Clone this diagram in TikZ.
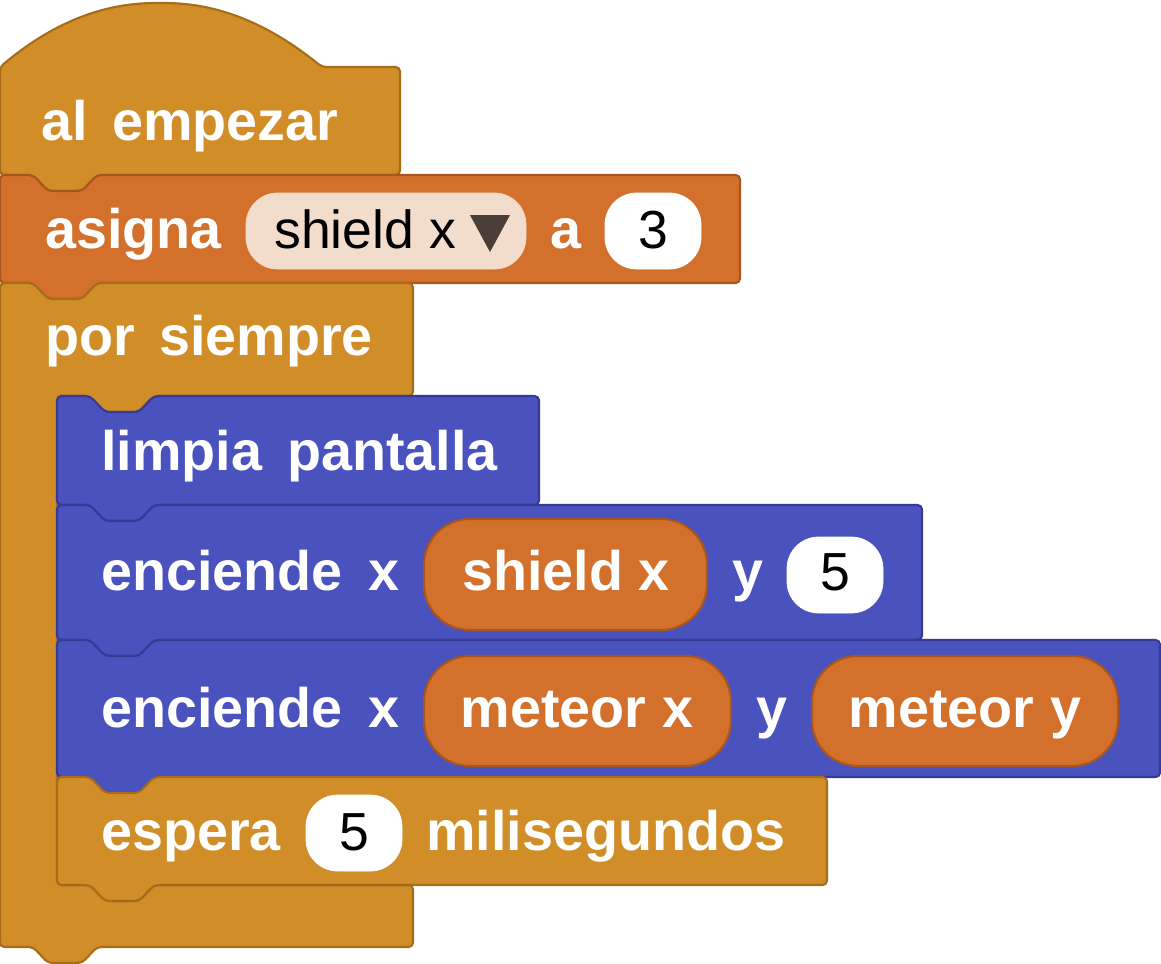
\documentclass[tikz,border=0pt]{standalone}
\usepackage{fontspec}
\setmainfont{Liberation Sans}
\usepackage{tikz}

\definecolor{ctrlgold}{RGB}{209,142,40}
\definecolor{ctrledge}{RGB}{166,108,26}
\definecolor{varorange}{RGB}{211,113,44}
\definecolor{varedge}{RGB}{168,86,30}
\definecolor{ledblue}{RGB}{73,82,189}
\definecolor{lededge}{RGB}{52,58,150}
\definecolor{dropbg}{RGB}{242,220,204}
\definecolor{droparrow}{RGB}{74,62,56}

\newcommand\stackblock[6]{%
  \draw[block,fill=#1,draw=#2] (#3,#4) -- ++(33,0) -- ++(15,16) -- ++(34,0) -- ++(15,-16)
    -- (#5,#4) -- (#5,#6) -- (#3+97,#6) -- ++(-15,16) -- ++(-34,0) -- ++(-15,-16)
    -- (#3,#6) -- cycle;}

\begin{document}
\begin{tikzpicture}
  [x=0.02cm,y=-0.02cm,
   block/.style={line width=1.2pt,rounded corners=2.5pt},
   word/.style={anchor=base west,text=white,font=\fontsize{31.7}{36}\selectfont\bfseries,inner sep=0pt},
   plain/.style={anchor=base,text=black,font=\fontsize{30.5}{36}\selectfont,inner sep=0pt},
   boldpill/.style={anchor=base,text=white,font=\fontsize{31.7}{36}\selectfont\bfseries,inner sep=0pt}]
  \useasboundingbox (0,0) rectangle (1161,964);

  % hat block
  \draw[block,fill=ctrlgold,draw=ctrledge] (0,67) .. controls (50,25) and (100,3) .. (160,3)
    .. controls (220,3) and (270,25) .. (322,67) -- (400,67) -- (400,175) -- (97,175)
    -- ++(-15,16) -- ++(-34,0) -- ++(-15,-16) -- (0,175) -- cycle;
  \node[word] (al) at (41,140) {al};
  \node[word] (start) at (112,140) {empezar};

  % assign
  \stackblock{varorange}{varedge}{0}{175}{740}{283}
  \node[word] (assign) at (45,248) {asigna};
  \draw[fill=dropbg,draw=dropbg,rounded corners=18pt] (246,193) rectangle (526,269);
  \node[plain,anchor=base west] (dropvar) at (274,248) {shield x};
  \fill[droparrow] (470,215) -- (510,215) -- (490,252) -- cycle;
  \node[word] (to) at (550,248) {a};
  \draw[fill=white,draw=white,rounded corners=18pt] (605,193) rectangle (701,269);
  \node[plain] (three) at (653,248) {3};

  % forever
  \draw[block,fill=ctrlgold,draw=ctrledge] (0,283) -- ++(33,0) -- ++(15,16) -- ++(34,0) -- ++(15,-16)
    -- (413,283) -- (413,396) -- (153,396) -- ++(-15,16) -- ++(-34,0) -- ++(-15,-16)
    -- (57,396) -- (57,885) -- (90,885) -- ++(15,16) -- ++(34,0) -- ++(15,-16)
    -- (413,885) -- (413,947) -- (97,947) -- ++(-15,16) -- ++(-34,0) -- ++(-15,-16)
    -- (0,947) -- cycle;
  \node[word] (por) at (45,355) {por};
  \node[word] (always) at (159,355) {siempre};

  % clear screen
  \stackblock{ledblue}{lededge}{57}{396}{539}{505}
  \node[word] (clear) at (101,470) {limpia};
  \node[word] (screen) at (287,470) {pantalla};

  % plot 1
  \stackblock{ledblue}{lededge}{57}{505}{922}{640}
  \node[word] (plotA) at (101,590) {enciende};
  \node[word] (plotAx) at (368,590) {x};
  \draw[fill=varorange,draw=varedge,line width=1.2pt,rounded corners=26pt] (424,519) rectangle (707,630);
  \node[boldpill] (shieldx) at (566,590) {shield x};
  \node[word] (plotAy) at (732,590) {y};
  \draw[fill=white,draw=white,rounded corners=18pt] (787,537) rectangle (883,613);
  \node[plain] (five) at (835,590) {5};

  % plot 2
  \stackblock{ledblue}{lededge}{57}{640}{1160}{777}
  \node[word] (plotB) at (101,727) {enciende};
  \node[word] (plotBx) at (368,727) {x};
  \draw[fill=varorange,draw=varedge,line width=1.2pt,rounded corners=26pt] (424,656) rectangle (731,766);
  \node[boldpill] (meteorx) at (577,727) {meteor x};
  \node[word] (plotBy) at (756,727) {y};
  \draw[fill=varorange,draw=varedge,line width=1.2pt,rounded corners=26pt] (812,656) rectangle (1118,766);
  \node[boldpill] (meteory) at (965,727) {meteor y};

  % pause
  \stackblock{ctrlgold}{ctrledge}{57}{777}{827}{885}
  \node[word] (pause) at (101,850) {espera};
  \draw[fill=white,draw=white,rounded corners=18pt] (306,795) rectangle (402,871);
  \node[plain] (ms) at (354,850) {5};
  \node[word] (msunit) at (426,850) {milisegundos};
\end{tikzpicture}
\end{document}
